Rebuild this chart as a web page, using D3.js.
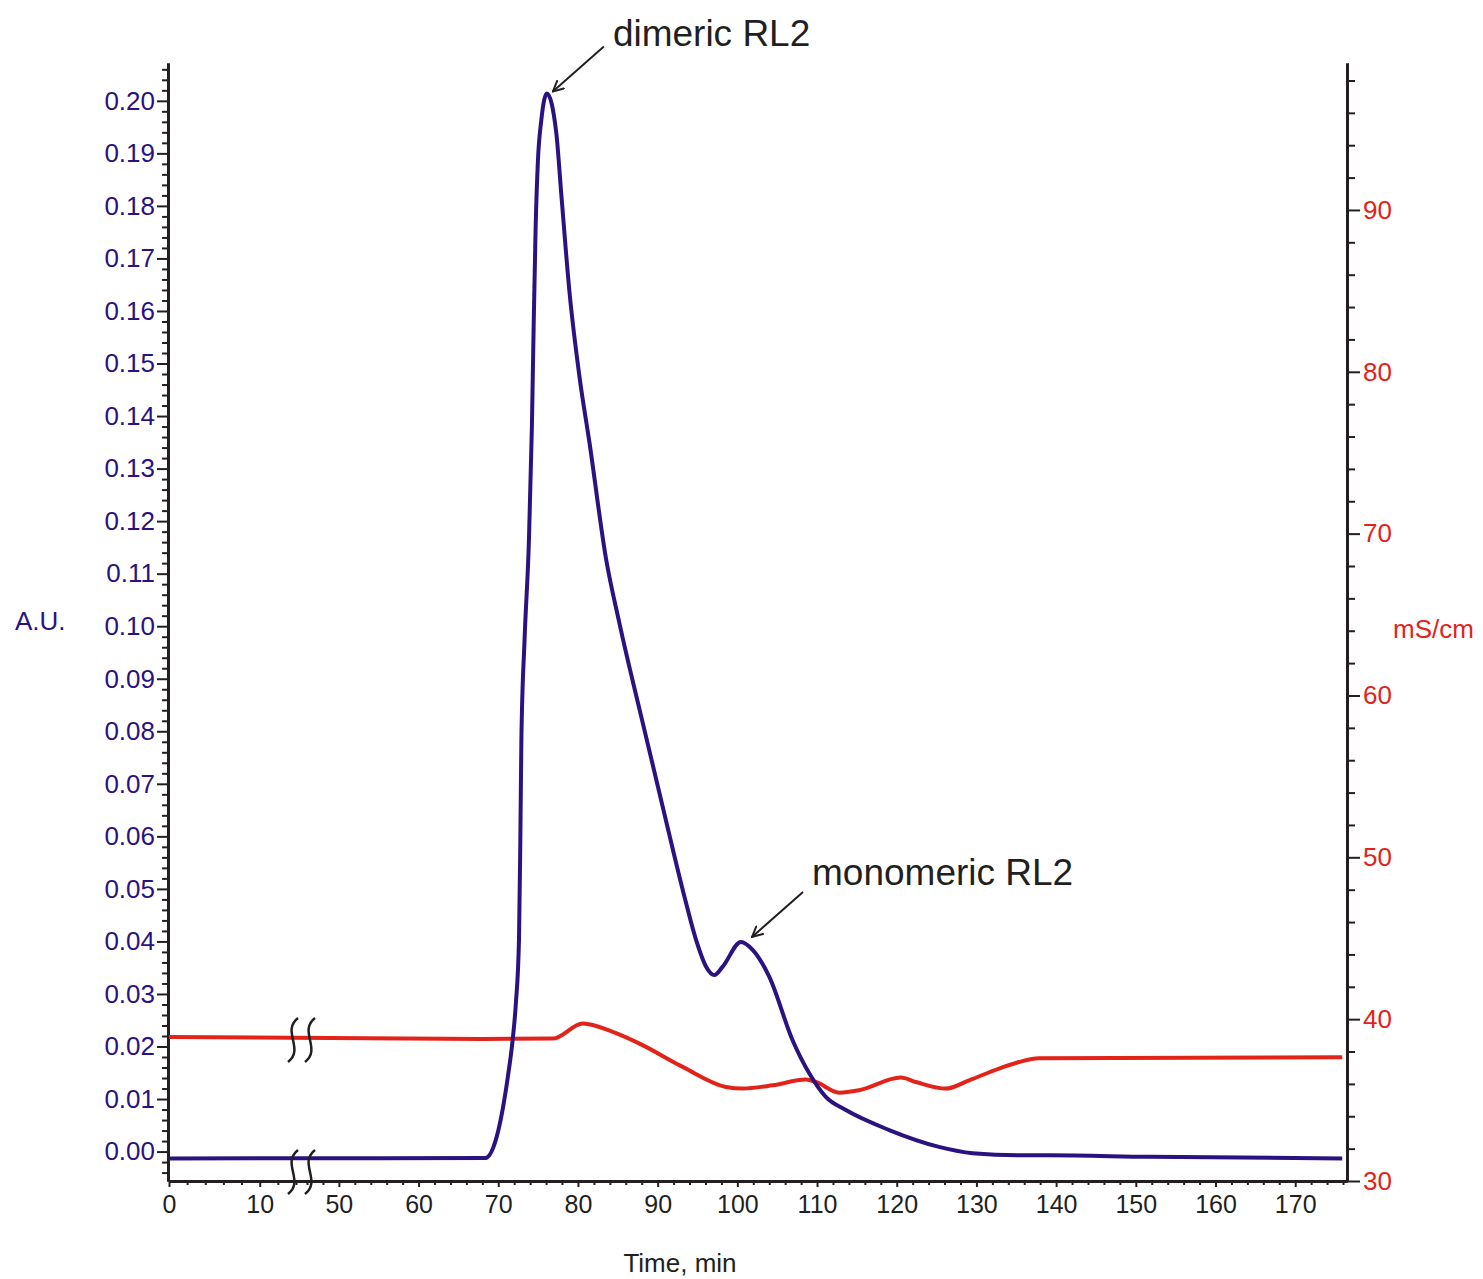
<!DOCTYPE html>
<html>
<head>
<meta charset="utf-8">
<script src="https://cdnjs.cloudflare.com/ajax/libs/d3/7.8.5/d3.min.js"></script>
<style>
  body { margin: 0; background: #fff; }
  text { font-family: "Liberation Sans", Arial, sans-serif; }
</style>
</head>
<body>
<div id="chart"></div>
<script>
// absorbance trace (A.U.) - time in min
var auTime = [0, 68.4, 69.8, 71.2, 71.8, 72.2, 72.6, 72.77, 72.9, 73.3, 73.85, 74.22, 74.44, 74.69, 74.98, 75.4, 76.1,
    77.28, 77.9, 78.95, 80.2, 81.45, 83.55, 85.2, 88.13, 90.64, 93.15, 94.82, 96.08, 97.12, 98.16, 100.46, 101.92,
    104.0, 106.93, 109.02, 111.1, 113.62, 119.05, 125.3, 129.5, 135.3, 139.1, 151.6, 175.9];
var auValue = [-0.0013, -0.0012, 0.0028, 0.0142, 0.0212, 0.028, 0.0403, 0.0593, 0.0783, 0.0974, 0.1164, 0.138, 0.157, 0.176, 0.1887, 0.1963, 0.2014,
    0.1939, 0.1824, 0.1634, 0.1474, 0.1349, 0.1126, 0.1006, 0.0816, 0.0656, 0.0498, 0.0403, 0.0352, 0.0336, 0.0352, 0.0399, 0.0384,
    0.0333, 0.0212, 0.0149, 0.0104, 0.0079, 0.0041, 0.0009, -0.0003, -0.0007, -0.0007, -0.0010, -0.0013];

// conductivity trace (mS/cm)
var condTime = [0, 68, 76.85, 80.61, 84.37, 87.72, 93.15, 98.58, 100.66, 104.42, 108.6, 109.86, 112.78, 115.29,
    120.51, 122.39, 126.15, 129.07, 132.83, 135.34, 137.84, 175.9];
var condValue = [38.9, 38.78, 38.8, 39.73, 39.21, 38.49, 37.05, 35.81, 35.71, 35.91, 36.27, 36.12, 35.46, 35.61,
    36.39, 36.12, 35.71, 36.22, 36.95, 37.35, 37.58, 37.65];

var xTicks = [0, 10, 50, 60, 70, 80, 90, 100, 110, 120, 130, 140, 150, 160, 170];
var leftTicks = [0, 0.01, 0.02, 0.03, 0.04, 0.05, 0.06, 0.07, 0.08, 0.09, 0.10,
    0.11, 0.12, 0.13, 0.14, 0.15, 0.16, 0.17, 0.18, 0.19, 0.20];
var rightTicks = [30, 40, 50, 60, 70, 80, 90];

var peaks = [
    { label: "dimeric RL2", t: 76.1, v: 0.2014 },
    { label: "monomeric RL2", t: 100.46, v: 0.0399 }
];

var blueCol = "#2a1280", redCol = "#e2231a", inkCol = "#231f20";
var W = 1483, H = 1279;

var svg = d3.select("#chart").append("svg")
    .attr("width", W)
    .attr("height", H);

// broken time axis: 0..14 then 46..176.5
var xScale = d3.scaleLinear()
    .domain([0, 14, 46, 176.5])
    .range([169, 296, 307, 1347]);

var yLeft = d3.scaleLinear()
    .domain([-0.0056, 0.2072])
    .range([1181, 63]);

var yRight = d3.scaleLinear()
    .domain([30, 99.08])
    .range([1181, 63]);

var xMinor = d3.range(0, 14.1, 2).concat(d3.range(46, 176.5, 2))
    .filter(function(d) { return xTicks.indexOf(d) < 0; });
var leftMinor = d3.range(-4, 207, 2).map(function(d) { return d / 1000; })
    .filter(function(d) { return Math.round(d * 1000) % 10 != 0; });
var rightMinor = d3.range(32, 99, 2).filter(function(d) { return d % 10 != 0; });

// minor ticks first
svg.append("g")
    .attr("transform", "translate(0,1181)")
    .call(d3.axisBottom(xScale).tickValues(xMinor).tickSize(4).tickSizeOuter(0).tickFormat(""));
svg.append("g")
    .attr("transform", "translate(168,0)")
    .call(d3.axisLeft(yLeft).tickValues(leftMinor).tickSize(6).tickSizeOuter(0).tickFormat(""));
svg.append("g")
    .attr("transform", "translate(1347,0)")
    .call(d3.axisRight(yRight).tickValues(rightMinor).tickSize(8).tickSizeOuter(0).tickFormat(""));

var xAxis = svg.append("g")
    .attr("class", "x-axis")
    .attr("transform", "translate(0,1181)")
    .call(d3.axisBottom(xScale).tickValues(xTicks).tickSize(6).tickSizeOuter(0).tickPadding(8)
        .tickFormat(d3.format("d")));
xAxis.selectAll("text").style("font-size", "25px").style("fill", inkCol);

var leftAxis = svg.append("g")
    .attr("class", "y-left")
    .attr("transform", "translate(168,0)")
    .call(d3.axisLeft(yLeft).tickValues(leftTicks).tickSize(11).tickSizeOuter(0).tickPadding(2)
        .tickFormat(d3.format(".2f")));
leftAxis.selectAll("text").style("font-size", "26px").style("fill", blueCol);

var rightAxis = svg.append("g")
    .attr("class", "y-right")
    .attr("transform", "translate(1347,0)")
    .call(d3.axisRight(yRight).tickValues(rightTicks).tickSize(13).tickSizeOuter(0).tickPadding(3)
        .tickFormat(d3.format("d")));
rightAxis.selectAll("text").style("font-size", "26px").style("fill", redCol);

svg.selectAll(".tick line").style("stroke", inkCol).style("stroke-width", 2);
svg.selectAll(".domain").style("stroke", inkCol).style("stroke-width", 3);

// traces
var auData = auTime.map(function(t, i) { return [t, auValue[i]]; });
var condData = condTime.map(function(t, i) { return [t, condValue[i]]; });

var auLine = d3.line()
    .x(function(d) { return xScale(d[0]); })
    .y(function(d) { return yLeft(d[1]); })
    .curve(d3.curveMonotoneX);

var condLine = d3.line()
    .x(function(d) { return xScale(d[0]); })
    .y(function(d) { return yRight(d[1]); })
    .curve(d3.curveMonotoneX);

svg.append("path")
    .datum(condData)
    .attr("d", condLine)
    .attr("fill", "none")
    .attr("stroke", redCol)
    .attr("stroke-width", 4);

svg.append("path")
    .datum(auData)
    .attr("d", auLine)
    .attr("fill", "none")
    .attr("stroke", blueCol)
    .attr("stroke-width", 4);

// break marks
function squiggle(cx, cy, h) {
    return "M" + (cx + 5) + "," + (cy - h / 2)
        + " C" + (cx - 12) + "," + (cy - h / 5) + " " + (cx + 12) + "," + (cy + h / 5) + " " + (cx - 5) + "," + (cy + h / 2);
}
var breakY = [yRight(38.9) + 3, 1172];
breakY.forEach(function(cy) {
    [xScale(14) - 3, xScale(46) + 3].forEach(function(cx) {
        svg.append("path")
            .attr("d", squiggle(cx, cy, 44))
            .attr("fill", "none")
            .attr("stroke", inkCol)
            .attr("stroke-width", 2.5);
    });
});

// annotations
svg.append("defs").append("marker")
    .attr("id", "arrow")
    .attr("viewBox", "0 -6 12 12")
    .attr("refX", 11)
    .attr("refY", 0)
    .attr("markerWidth", 12)
    .attr("markerHeight", 12)
    .attr("markerUnits", "userSpaceOnUse")
    .attr("orient", "auto")
    .append("path")
    .attr("d", "M0,-5.5L11,0L0,5.5")
    .attr("fill", "none")
    .attr("stroke", inkCol)
    .attr("stroke-width", 2);

var tipOff = [[6, -2], [11, -5]];
peaks.forEach(function(p, i) {
    var tx = xScale(p.t) + tipOff[i][0];
    var ty = yLeft(p.v) + tipOff[i][1];
    var sx = tx + 51, sy = ty - 45;
    svg.append("line")
        .attr("x1", sx).attr("y1", sy)
        .attr("x2", tx).attr("y2", ty)
        .attr("stroke", inkCol)
        .attr("stroke-width", 2)
        .attr("marker-end", "url(#arrow)");
    svg.append("text")
        .attr("x", sx + 9)
        .attr("y", sy - 4 + (i == 0 ? 4 : -3))
        .style("font-size", "37px")
        .style("fill", inkCol)
        .text(p.label);
});

// axis titles
svg.append("text")
    .attr("x", 15).attr("y", 630)
    .style("font-size", "26px").style("fill", blueCol)
    .text("A.U.");

svg.append("text")
    .attr("x", 1393).attr("y", 638)
    .style("font-size", "26px").style("fill", redCol)
    .text("mS/cm");

svg.append("text")
    .attr("x", 680).attr("y", 1272)
    .style("font-size", "26px").style("fill", inkCol)
    .style("text-anchor", "middle")
    .text("Time, min");
</script>
</body>
</html>
